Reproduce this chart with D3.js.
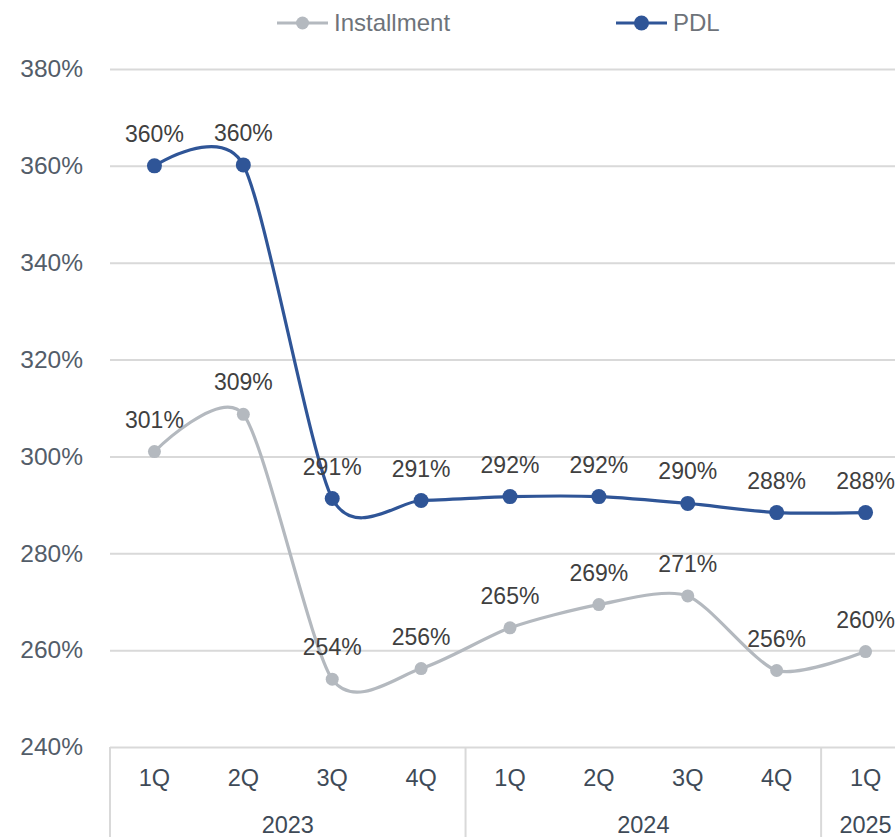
<!DOCTYPE html>
<html>
<head>
<meta charset="utf-8">
<script src="https://cdn.jsdelivr.net/npm/d3@7"></script>
<style>
  html, body { margin: 0; padding: 0; background: #fff; }
  svg { display: block; font-family: "Liberation Sans", Arial, sans-serif; }
</style>
</head>
<body>
<svg id="chart" width="895" height="837"></svg>
<script>
const quarters = ["1Q", "2Q", "3Q", "4Q", "1Q", "2Q", "3Q", "4Q", "1Q"];
const years = ["2023", "2024", "2025"];
const yearSpans = [4, 4, 1];
const installment = [301.0, 308.7, 254.0, 256.2, 264.6, 269.4, 271.2, 255.8, 259.7];
const pdl = [360.0, 360.2, 291.3, 290.9, 291.7, 291.7, 290.3, 288.4, 288.4];
const yTicks = [240, 260, 280, 300, 320, 340, 360, 380];
const seriesNames = ["Installment", "PDL"];
const seriesColors = ["#B4B9BF", "#2F5597"];

(function () {
const svg = d3.select("#chart");
const pLeft = 110, pRight = 910, pTop = 69, pBottom = 747;

const x = d3.scaleBand().domain(d3.range(quarters.length)).range([pLeft, pRight]).padding(0);
const y = d3.scaleLinear().domain([240, 380]).range([pBottom, pTop]);

// Y axis with gridlines
const yAxis = svg.append("g")
  .attr("transform", `translate(${pLeft},0)`)
  .call(d3.axisLeft(y).tickValues(yTicks).tickSize(-(pRight - pLeft)).tickFormat(d => d + "%"));
yAxis.select(".domain").remove();
yAxis.selectAll(".tick line").attr("stroke", "#D9D9D9").attr("stroke-width", 2);
yAxis.selectAll(".tick text")
  .attr("x", -27).attr("fill", "#535D69").attr("font-size", 24.5)
  .style("font-family", "'Liberation Sans', Arial, sans-serif");

// Bottom quarter labels
const xAxis = svg.append("g")
  .attr("transform", `translate(0,${pBottom})`)
  .call(d3.axisBottom(x).tickSize(0).tickFormat(i => quarters[i]));
xAxis.select(".domain").remove();
xAxis.selectAll(".tick text")
  .attr("y", 31).attr("dy", "0.35em").attr("fill", "#3E4A57").attr("font-size", 23.5)
  .style("font-family", "'Liberation Sans', Arial, sans-serif");

// Year group separators and labels
let acc = 0;
const bounds = [acc];
yearSpans.forEach(s => { acc += s; bounds.push(acc); });
bounds.forEach(b => {
  const xx = b < quarters.length ? x(b) : pRight;
  svg.append("line").attr("x1", xx).attr("x2", xx).attr("y1", pBottom).attr("y2", 837)
    .attr("stroke", "#D9D9D9").attr("stroke-width", 2);
});
years.forEach((yr, i) => {
  const x0 = x(bounds[i]);
  const x1 = bounds[i + 1] < quarters.length ? x(bounds[i + 1]) : pRight;
  svg.append("text").attr("x", (x0 + x1) / 2).attr("y", 825).attr("dy", "0.35em")
    .attr("text-anchor", "middle").attr("fill", "#3E4A57").attr("font-size", 23.5).text(yr);
});

// Lines
const line = d3.line()
  .x((d, i) => x(i) + x.bandwidth() / 2)
  .y(d => y(d))
  .curve(d3.curveCardinal.tension(0.25));

const allSeries = [installment, pdl];
allSeries.forEach((data, si) => {
  const g = svg.append("g");
  g.append("path").datum(data).attr("d", line)
    .attr("fill", "none").attr("stroke", seriesColors[si]).attr("stroke-width", 3.2);
  g.selectAll("circle").data(data).join("circle")
    .attr("cx", (d, i) => x(i) + x.bandwidth() / 2)
    .attr("cy", d => y(d))
    .attr("r", si === 1 ? 7.5 : 6.5)
    .attr("fill", seriesColors[si]);
  g.selectAll("text.lbl").data(data).join("text")
    .attr("class", "lbl")
    .attr("x", (d, i) => x(i) + x.bandwidth() / 2)
    .attr("y", d => y(d) - 32)
    .attr("dy", "0.35em")
    .attr("text-anchor", "middle")
    .attr("fill", "#404040")
    .attr("font-size", 23)
    .text(d => Math.round(d) + "%");
});

// Legend
const legendItems = [
  { name: seriesNames[0], color: seriesColors[0], x0: 277, r: 6.5 },
  { name: seriesNames[1], color: seriesColors[1], x0: 616, r: 7.5 }
];
legendItems.forEach(it => {
  const g = svg.append("g");
  g.append("line").attr("x1", it.x0).attr("x2", it.x0 + 51).attr("y1", 23).attr("y2", 23)
    .attr("stroke", it.color).attr("stroke-width", 3.2);
  g.append("circle").attr("cx", it.x0 + 25.5).attr("cy", 23).attr("r", it.r).attr("fill", it.color);
  g.append("text").attr("x", it.x0 + 57).attr("y", 23).attr("dy", "0.35em")
    .attr("fill", "#6E737A").attr("font-size", 24).text(it.name);
});
})();
</script>
</body>
</html>
